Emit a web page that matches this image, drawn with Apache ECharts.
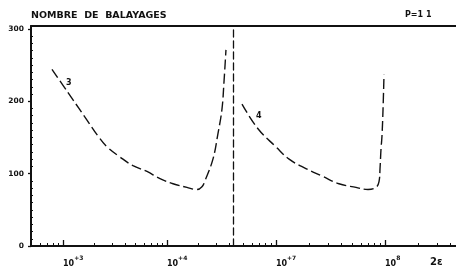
<!DOCTYPE html>
<html>
<head>
<meta charset="utf-8">
<script src="https://cdn.jsdelivr.net/npm/echarts@6/dist/echarts.min.js"></script>
<style>
  html, body { margin: 0; padding: 0; background: #fff; }
  #chart { width: 456px; height: 268px; }
</style>
</head>
<body>
<div id="chart"></div>
<script>
// nombre de balayages vs 2e, two log ranges side by side
const yTicks = [0, 100, 200, 300];
const leftDecades = [1e3, 1e4];
const leftExp = ['+3', '+4'];
const rightDecades = [1e7, 1e8];
const rightExp = ['+7', '8'];

// curve 3 (left part)
const curve3 = [
  [783, 244], [1000, 222], [1220, 204], [1700, 174], [2170, 152],
  [2650, 137], [3530, 123], [4710, 111], [6420, 103], [8570, 93],
  [11430, 86], [15560, 81], [19410, 78], [21710, 82], [23170, 90],
  [27670, 120], [30900, 155], [33790, 189], [35320, 226], [36920, 271]
];
// curve 4 (right part)
const curve4 = [
  [4.88e6, 196], [6.84e6, 162], [1.0e7, 137], [1.32e7, 120], [1.88e7, 107],
  [2.70e7, 96], [3.78e7, 86], [5.42e7, 81], [6.98e7, 78], [8.26e7, 81],
  [8.81e7, 89], [9.0e7, 107], [9.19e7, 134], [9.38e7, 152], [9.59e7, 189],
  [9.79e7, 237]
];

const FONT = 'DejaVu Sans';
const INK = '#111';

const leftMin = Math.pow(10, 2.692), leftMax = Math.pow(10, 4.635);
const rightMin = Math.pow(10, 6.606), rightMax = Math.pow(10, 8.651);

function subTicks(lo, hi) {
  var out = [];
  for (var n = Math.floor(Math.log10(lo)); n <= Math.ceil(Math.log10(hi)); n++) {
    for (var k = 1; k <= 9; k++) {
      var v = k * Math.pow(10, n);
      if (v > lo && v < hi) out.push(v);
    }
  }
  return out;
}
var yMinor = [];
for (var i = 10; i < 305; i += 10) if (i % 100) yMinor.push(i);

function decadeLabel(decades, exps) {
  return function (v) {
    var idx = decades.findIndex(function (d) { return Math.abs(d - v) / d < 1e-6; });
    if (idx < 0) return '';
    return '{b|10}{s|' + exps[idx] + '}';
  };
}
const rich = {
  b: { fontSize: 8, fontWeight: 'bold', fontFamily: FONT, color: INK, verticalAlign: 'bottom', lineHeight: 13 },
  s: { fontSize: 6, fontWeight: 'bold', fontFamily: FONT, color: INK, verticalAlign: 'top', lineHeight: 13 }
};
const curveLabel = { show: true, position: 'right', fontFamily: FONT, fontSize: 8, fontWeight: 'bold', color: INK };

function xAxesFor(gridIndex, min, max, decades, exps) {
  return [
    {
      type: 'log', gridIndex: gridIndex, position: 'bottom', min: min, max: max,
      axisLine: { show: true, lineStyle: { color: INK, width: 2 } },
      axisTick: { show: true, inside: true, length: 6, customValues: decades, lineStyle: { color: INK, width: 1.3 } },
      axisLabel: {
        show: true, customValues: decades, formatter: decadeLabel(decades, exps),
        rich: rich, align: 'left', margin: 9
      },
      splitLine: { show: false }
    },
    {
      type: 'log', gridIndex: gridIndex, position: 'bottom', min: min, max: max,
      axisLine: { show: false },
      axisTick: { show: true, inside: true, length: 3, customValues: subTicks(min, max), lineStyle: { color: INK, width: 1 } },
      axisLabel: { show: false },
      splitLine: { show: false }
    },
    {
      type: 'log', gridIndex: gridIndex, position: 'top', min: min, max: max,
      axisLine: { show: true, lineStyle: { color: INK, width: 2 } },
      axisTick: { show: false }, axisLabel: { show: false }, splitLine: { show: false }
    }
  ];
}

const option = {
  backgroundColor: '#fff',
  animation: false,
  title: [
    { text: 'NOMBRE  DE  BALAYAGES', left: 31, top: 11, padding: 0, textStyle: { fontFamily: FONT, fontSize: 9.5, fontWeight: 'bold', color: INK } },
    { text: 'P=1 1', left: 405, top: 11, padding: 0, textStyle: { fontFamily: FONT, fontSize: 8, fontWeight: 'bold', color: INK } },
    { text: '2ε', left: 430, top: 257, padding: 0, textStyle: { fontFamily: FONT, fontSize: 10, fontWeight: 'bold', color: INK } }
  ],
  grid: [
    { left: 31, right: 223, top: 26, bottom: 20 },
    { left: 233, right: 0, top: 26, bottom: 20 }
  ],
  xAxis: xAxesFor(0, leftMin, leftMax, leftDecades, leftExp)
    .concat(xAxesFor(1, rightMin, rightMax, rightDecades, rightExp)),
  yAxis: [
    {
      type: 'value', gridIndex: 0, min: 0, max: 304,
      axisLine: { show: true, lineStyle: { color: INK, width: 2 } },
      axisTick: { show: true, length: 3, customValues: yTicks, lineStyle: { color: INK, width: 1.3 } },
      axisLabel: { customValues: yTicks, margin: 7, fontFamily: FONT, fontSize: 7.5, fontWeight: 'bold', color: INK },
      splitLine: { show: false }
    },
    {
      type: 'value', gridIndex: 0, min: 0, max: 304, position: 'left',
      axisLine: { show: false },
      axisTick: { show: true, inside: true, length: 2, customValues: yMinor, lineStyle: { color: INK, width: 1 } },
      axisLabel: { show: false }, splitLine: { show: false }
    },
    {
      type: 'value', gridIndex: 1, min: 0, max: 304,
      axisLine: { show: true, lineStyle: { color: INK, width: 1.3, type: [7, 4] } },
      axisTick: { show: false }, axisLabel: { show: false }, splitLine: { show: false }
    }
  ],
  series: [
    {
      type: 'line', xAxisIndex: 0, yAxisIndex: 0, smooth: 0.4,
      symbol: 'circle', symbolSize: 0.01, showSymbol: true,
      itemStyle: { color: 'transparent' },
      lineStyle: { color: INK, width: 1.4, type: [10, 4] },
      data: curve3.map(function (p, i) {
        if (i === 0) return { value: p, label: Object.assign({ offset: [9, 14], formatter: '3' }, curveLabel) };
        return p;
      })
    },
    {
      type: 'line', xAxisIndex: 3, yAxisIndex: 2, smooth: 0.4,
      symbol: 'circle', symbolSize: 0.01, showSymbol: true,
      itemStyle: { color: 'transparent' },
      lineStyle: { color: INK, width: 1.4, type: [10, 4] },
      data: curve4.map(function (p, i) {
        if (i === 0) return { value: p, label: Object.assign({ offset: [9, 12], formatter: '4' }, curveLabel) };
        return p;
      })
    }
  ]
};

const chart = echarts.init(document.getElementById('chart'), null, { renderer: 'canvas' });
chart.setOption(option);
</script>
</body>
</html>
